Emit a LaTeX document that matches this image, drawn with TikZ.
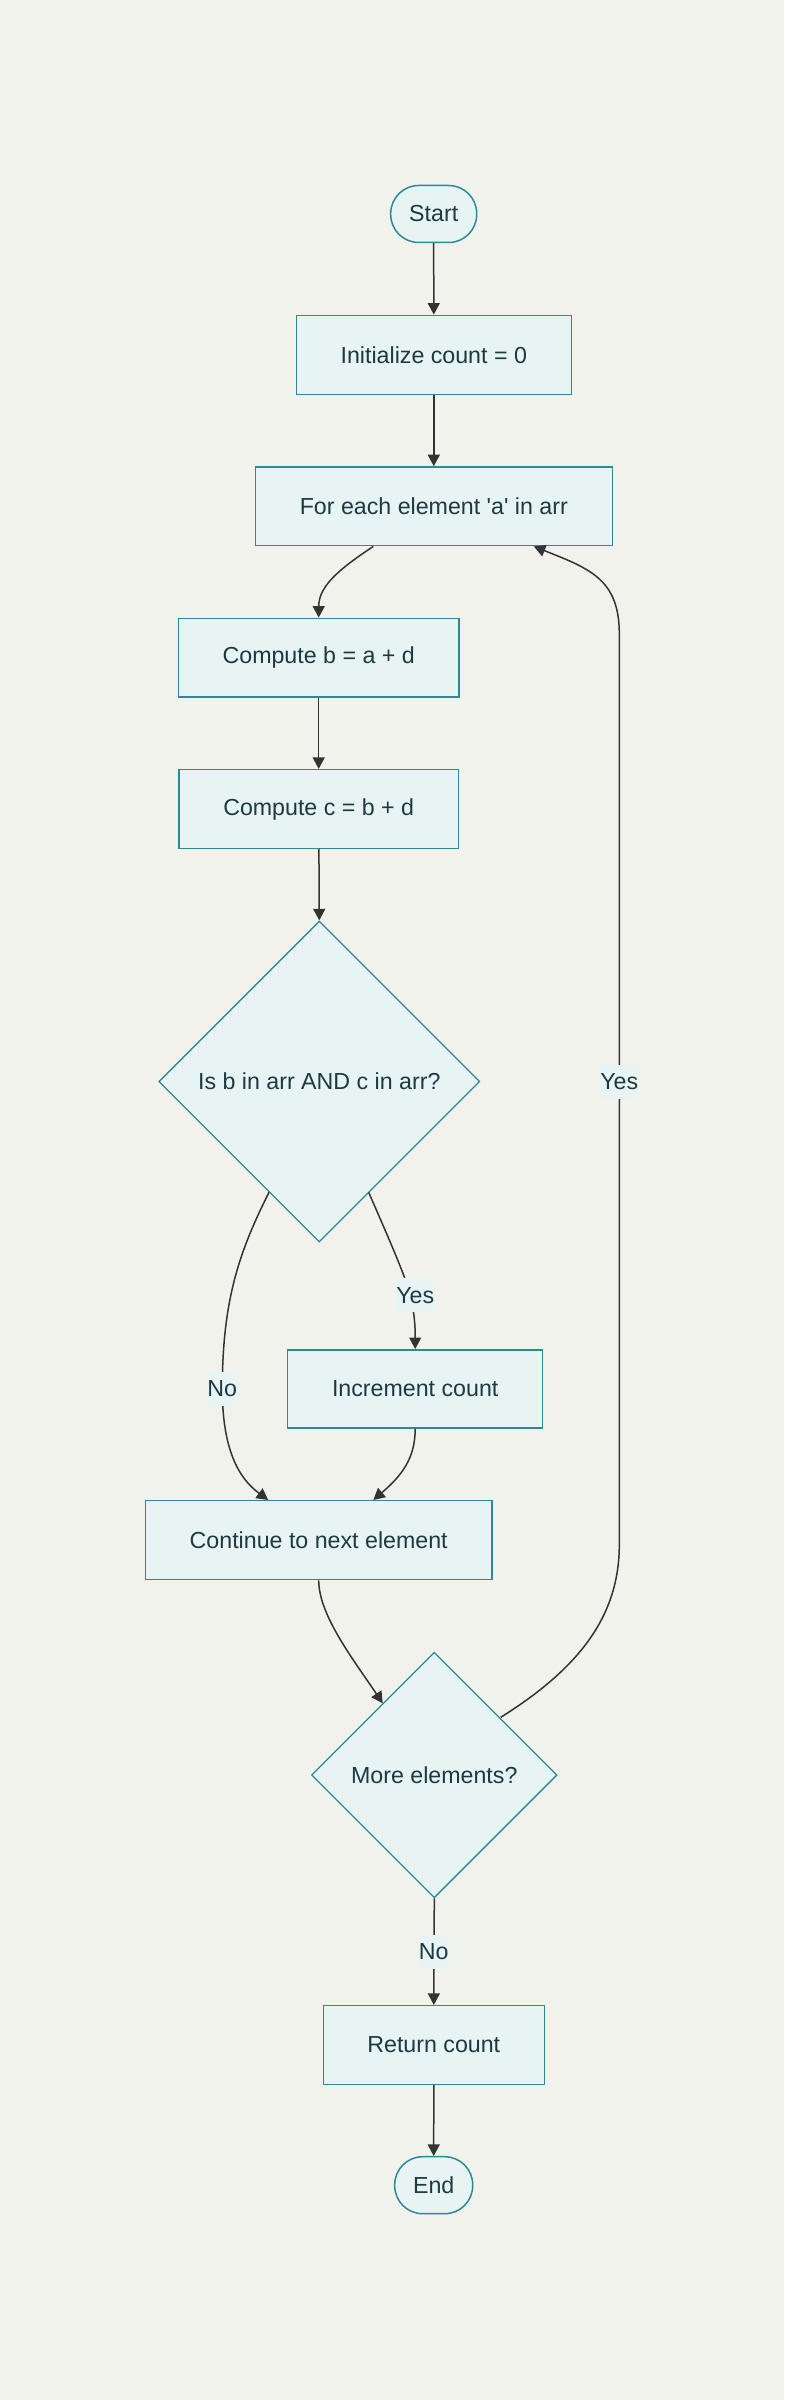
\documentclass[tikz,border=0pt]{standalone}
\usepackage{fontspec}
\setmainfont{Liberation Sans}
\usetikzlibrary{shapes.geometric,arrows.meta,calc}
\definecolor{bgcol}{HTML}{F2F2EC}
\definecolor{nodefill}{HTML}{E8F4F4}
\definecolor{nodeline}{HTML}{2B8A96}
\definecolor{txtcol}{HTML}{1C3A40}
\definecolor{edgecol}{HTML}{333333}
\tikzset{
  box/.style={draw=nodeline, fill=nodefill, line width=1.5pt, inner sep=0pt,
    minimum height=78.7pt, text=txtcol, font=\fontsize{23.2}{28}\selectfont},
  term/.style={box, rounded corners=28pt, minimum height=57pt},
  dia/.style={diamond, aspect=1, draw=nodeline, fill=nodefill, line width=1.3pt,
    inner sep=0pt, text=txtcol, font=\fontsize{23.2}{28}\selectfont},
  arr/.style={draw=edgecol, line width=1.5pt, -{Triangle[length=11.5pt,width=12pt]}},
  lbl/.style={fill=nodefill, text=txtcol, inner xsep=0pt, inner ysep=0pt,
    minimum height=34pt, font=\fontsize{23.2}{28}\selectfont}
}
\begin{document}
\begin{tikzpicture}[x=1pt,y=-1pt]
\useasboundingbox (0,0) rectangle (784,2400);
\fill[bgcol] (0,0) rectangle (784,2400);

\node[term, minimum width=86pt] (start) at (433.7,214) {Start};
\node[box, minimum width=275pt, minimum height=79pt] (init) at (433.8,354.8) {Initialize count = 0};
\node[box, minimum width=357pt] (foreach) at (433.8,506.3) {For each element \textquotesingle a\textquotesingle{} in arr};
\node[box, minimum width=280.7pt] (computeb) at (318.7,657.7) {Compute b = a + d};
\node[box, minimum width=279.3pt] (computec) at (318.7,809) {Compute c = b + d};
\node[dia, minimum width=321pt, minimum height=321pt] (d1) at (319.3,1081.5) {Is b in arr AND c in arr?};
\node[box, minimum width=255pt, minimum height=78.3pt] (increment) at (415.2,1388.9) {Increment count};
\node[box, minimum width=346.7pt, minimum height=79pt] (continue) at (318.7,1540.2) {Continue to next element};
\node[dia, minimum width=245.6pt, minimum height=245.6pt] (more) at (434.3,1775) {More elements?};
\node[box, minimum width=221pt] (return) at (433.8,2045) {Return count};
\node[term, minimum width=78pt] (end) at (433.7,2185.2) {End};

\coordinate (nopos) at (222.3,1388.7);
\coordinate (yespos) at (415.3,1295.3);
\coordinate (loopos) at (619.3,1081.7);
\coordinate (no2pos) at (433.7,1951.7);

\draw[arr] (start) -- (init);
\draw[arr] (init) -- (foreach);
\draw[arr] ([xshift=-60.5pt]foreach.south) .. controls +(-33,22) and +(0,-32) .. (computeb.north);
\draw[arr] (computeb) -- (computec);
\draw[arr] (computec) -- (d1.north);
\draw[arr] ($(d1.center)+(-50.3,110.8)$) .. controls +(-29,58) and +(0,-90) .. (nopos)
  .. controls +(0,60) and +(-30,-22) .. ([xshift=-50.5pt]continue.north);
\draw[arr] ($(d1.center)+(49.4,110.8)$) .. controls +(16,37) and +(-5,-20) .. ($(yespos)+(-5,0)$)
  .. controls +(4,18) and +(0,-25) .. (increment.north);
\draw[arr] (increment.south) .. controls +(0,30) and +(28,-24) .. ([xshift=54.6pt]continue.north);
\draw[arr] (continue.south) .. controls +(0,35) and +(-28,-42) .. ($(more.center)+(-51.6,-71.7)$);
\draw[arr] ($(more.center)+(66.4,-57.7)$) .. controls +(80,-50) and +(0,70) .. ($(loopos)+(0,463)$)
  -- ($(loopos)+(0,-448)$) .. controls +(0,-55) and +(55,22) .. ([xshift=100pt]foreach.south);
\draw[arr] (more.south) -- (return.north);
\draw[arr] (return) -- (end);

\node[lbl] (nolbl) at (nopos) {No};
\node[lbl] (yeslbl) at (yespos) {Yes};
\node[lbl] (looplbl) at (loopos) {Yes};
\node[lbl] (no2lbl) at (no2pos) {No};
\end{tikzpicture}
\end{document}
